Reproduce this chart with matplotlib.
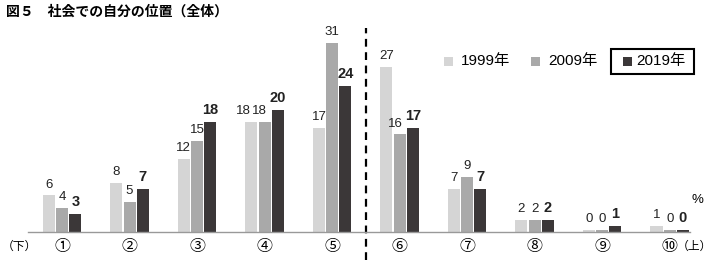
import numpy as np
import matplotlib
matplotlib.use("Agg")
import matplotlib.pyplot as plt
from matplotlib.patches import Rectangle

# データ
categories = ["①", "②", "③", "④", "⑤", "⑥", "⑦", "⑧", "⑨", "⑩"]
years = ["1999年", "2009年", "2019年"]
v1999 = [6, 8, 12, 18, 17, 27, 7, 2, 0, 1]
v2009 = [4, 5, 15, 18, 31, 16, 9, 2, 0, 0]
v2019 = [3, 7, 18, 20, 24, 17, 7, 2, 1, 0]

colors = ["#d5d5d5", "#a9a9a9", "#3b3738"]
NUM = ["Liberation Sans", "Noto Sans CJK JP"]
JP = ["Noto Sans CJK JP", "DejaVu Sans"]

fig = plt.figure(figsize=(7.13, 2.6), dpi=100)
ax = fig.add_axes([28 / 713, 28 / 260, 662 / 713, 213.5 / 260])

x = np.arange(len(categories))
w = 0.178
step = 0.196
series = [v1999, v2009, v2019]
for i, vals in enumerate(series):
    pos = x + (i - 1) * step
    # 0%もごく薄いバーで表示
    heights = [max(v, 0.3) for v in vals]
    ax.bar(pos, heights, width=w, color=colors[i], linewidth=0)
    for k, (p, v) in enumerate(zip(pos, vals)):
        # 2桁の数字が隣と並ぶときは左へずらす
        dx = 0.0
        if i < 2 and v >= 10 and abs(v - series[i + 1][k]) < 3:
            dx = -0.12 if i == 0 else -0.07
        ax.text(p + dx, max(v, 0.3) + 0.8, str(v), ha="center", va="bottom",
                fontsize=10.5 if i == 2 else 9.5,
                fontweight="bold" if i == 2 else "normal",
                family=NUM, color="#222222")

ax.set_xlim(-0.504, 9.3)
ax.set_ylim(0, 35)
for s in ["top", "right", "left"]:
    ax.spines[s].set_visible(False)
ax.spines["bottom"].set_color("#999999")
ax.spines["bottom"].set_linewidth(1.0)
ax.set_yticks([])
ax.set_xticks(x)
ax.set_xticklabels(categories, family=JP, fontsize=11.5)
ax.tick_params(axis="x", length=0, pad=4)

# 区切りの破線
ax.plot([4.5, 4.5], [-4.6, 33.4], color="black", lw=1.6,
        linestyle=(0, (3.5, 2.5)), clip_on=False)

fig.text(19 / 713, 1 - 246 / 260, "（下）", family=JP, fontsize=8.5,
         ha="center", va="center")
fig.text(712 / 713, 1 - 246 / 260, "（上）", family=JP, fontsize=8.5,
         ha="right", va="center")
fig.text(697 / 713, 1 - 200 / 260, "%", family=NUM, fontsize=9.5,
         ha="center", va="center")

fig.text(6 / 713, 1 - 12 / 260, "図５　社会での自分の位置（全体）",
         family=JP, fontsize=10, fontweight="bold", ha="left", va="center")

# 凡例
sq_x = [444, 531, 623]
tx_x = [461, 548, 636]
for i in range(3):
    fig.patches.append(Rectangle((sq_x[i] / 713, 1 - 65.5 / 260), 9 / 713, 9 / 260,
                                 transform=fig.transFigure, color=colors[i],
                                 linewidth=0))
    fig.text(tx_x[i] / 713, 1 - 61 / 260, years[i], family=NUM, fontsize=11,
             ha="left", va="center")
fig.patches.append(Rectangle((611 / 713, 1 - 73.5 / 260), 83 / 713, 24.5 / 260,
                             transform=fig.transFigure, fill=False,
                             edgecolor="black", linewidth=1.5))

fig.savefig("out.png", dpi=100)
